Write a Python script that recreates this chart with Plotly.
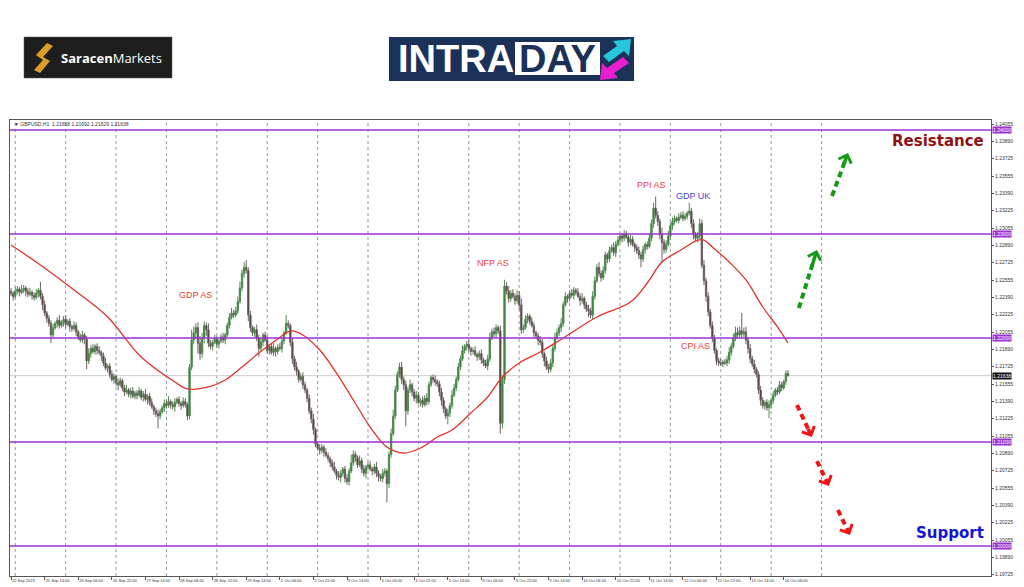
import plotly.graph_objects as go

# ---------------- data ----------------
first_open = 1.2245
close = [
    1.2243, 1.2240, 1.2245, 1.2247, 1.2244, 1.2246, 1.2248, 1.2245, 1.2242, 1.2244, 1.2241, 1.2239, 1.2243, 1.2246, 1.2240,
    1.2232, 1.2224, 1.2219, 1.2214, 1.2203,
    1.2210, 1.2214, 1.2217, 1.2212, 1.2215, 1.2218, 1.2213, 1.2216, 1.2211, 1.2209, 1.2212,
    1.2206, 1.2201, 1.2198, 1.2203, 1.2199,
    1.2178,
    1.2185, 1.2190, 1.2187, 1.2192, 1.2188, 1.2186, 1.2183,
    1.2176, 1.2171, 1.2173,
    1.2165, 1.2160, 1.2163, 1.2157, 1.2155, 1.2159,
    1.2152, 1.2148, 1.2150, 1.2146, 1.2149, 1.2144, 1.2147,
    1.2145, 1.2149, 1.2143, 1.2146, 1.2141, 1.2144,
    1.2138, 1.2134, 1.2130, 1.2127, 1.2125, 1.2129,
    1.2133, 1.2137, 1.2135, 1.2139, 1.2136, 1.2134, 1.2138, 1.2141, 1.2137, 1.2135, 1.2139, 1.2136,
    1.2125, 1.2172, 1.2198,
    1.2205, 1.2210, 1.2195, 1.2185, 1.2200, 1.2212, 1.2208, 1.2195,
    1.2192, 1.2196, 1.2199, 1.2194, 1.2197, 1.2201, 1.2198, 1.2203,
    1.2212, 1.2220, 1.2224, 1.2222, 1.2226, 1.2235, 1.2248,
    1.2262, 1.2268, 1.2265,
    1.2222, 1.2210, 1.2205, 1.2208,
    1.2200, 1.2190, 1.2196, 1.2203, 1.2198, 1.2188, 1.2192, 1.2186, 1.2190, 1.2187, 1.2191,
    1.2190, 1.2197, 1.2205, 1.2214, 1.2212, 1.2196,
    1.2180, 1.2172, 1.2168, 1.2160, 1.2163, 1.2155,
    1.2150, 1.2142, 1.2130, 1.2122, 1.2112,
    1.2098, 1.2094, 1.2092, 1.2095, 1.2090, 1.2087, 1.2084, 1.2080,
    1.2076, 1.2072, 1.2068, 1.2066, 1.2070, 1.2074, 1.2065, 1.2062,
    1.2072, 1.2080, 1.2088, 1.2085, 1.2078, 1.2082, 1.2074, 1.2070, 1.2076,
    1.2078, 1.2074, 1.2072, 1.2076, 1.2070, 1.2067, 1.2065, 1.2070, 1.2072, 1.2060,
    1.2088, 1.2108,
    1.2125, 1.2150, 1.2165, 1.2172, 1.2160, 1.2155,
    1.2130,
    1.2150, 1.2155, 1.2148, 1.2142, 1.2145, 1.2138, 1.2140, 1.2136, 1.2142, 1.2139,
    1.2155, 1.2162, 1.2160, 1.2158, 1.2156,
    1.2148, 1.2140, 1.2132, 1.2125, 1.2128,
    1.2135, 1.2145, 1.2152, 1.2160, 1.2172, 1.2180, 1.2188,
    1.2192, 1.2194, 1.2190, 1.2187, 1.2188, 1.2184, 1.2182, 1.2185, 1.2179, 1.2176, 1.2173,
    1.2180, 1.2200, 1.2206, 1.2204, 1.2210, 1.2207,
    1.2118, 1.2160, 1.2250,
    1.2245, 1.2238, 1.2243, 1.2240, 1.2236, 1.2241,
    1.2232, 1.2208,
    1.2210, 1.2218, 1.2221, 1.2216, 1.2212, 1.2205, 1.2202, 1.2198, 1.2196,
    1.2185, 1.2178, 1.2172, 1.2170, 1.2176,
    1.2190, 1.2200, 1.2205, 1.2210, 1.2214,
    1.2232, 1.2240, 1.2238, 1.2243, 1.2241, 1.2246,
    1.2244, 1.2240, 1.2236, 1.2238, 1.2232, 1.2228, 1.2226, 1.2222,
    1.2240, 1.2255, 1.2268, 1.2262, 1.2258, 1.2265,
    1.2280, 1.2276, 1.2284, 1.2287, 1.2282,
    1.2290, 1.2294, 1.2298, 1.2296, 1.2300, 1.2297, 1.2292, 1.2295, 1.2290, 1.2287, 1.2284, 1.2280, 1.2276,
    1.2285, 1.2290, 1.2288, 1.2296, 1.2310,
    1.2325, 1.2318, 1.2312,
    1.2300, 1.2292, 1.2285, 1.2290, 1.2298,
    1.2308, 1.2312, 1.2315, 1.2313, 1.2316, 1.2318, 1.2315, 1.2317, 1.2320, 1.2322,
    1.2310, 1.2300, 1.2296, 1.2298, 1.2310,
    1.2270, 1.2255, 1.2240, 1.2225, 1.2212,
    1.2200, 1.2188, 1.2178,
    1.2176, 1.2175, 1.2177, 1.2176, 1.2179,
    1.2186, 1.2192, 1.2200, 1.2205, 1.2203, 1.2207, 1.2204, 1.2206,
    1.2198, 1.2190, 1.2180, 1.2175, 1.2170, 1.2165,
    1.2150, 1.2140, 1.2135, 1.2138, 1.2133, 1.2136, 1.2140,
    1.2145, 1.2150, 1.2148, 1.2155, 1.2152, 1.2158, 1.21658, 1.21638,
]
# wick lengths beyond the body, in pips
wick_up = [
    3, 2, 4, 3, 2, 5, 3, 2, 3, 4, 2, 3, 4, 2, 8, 3, 4, 2, 3, 3,
    4, 2, 3, 5, 2, 3, 4, 2, 3, 2, 4, 3, 2, 3, 4, 2, 3, 5, 3, 4,
    2, 3, 4, 2, 3, 5, 2, 3, 4, 3, 2, 4, 3, 2, 3, 5, 2, 3, 4, 2,
    3, 4, 2, 3, 5, 2, 3, 4, 2, 3, 4, 3, 2, 4, 3, 5, 2, 3, 4, 2,
    3, 2, 4, 3, 2, 3, 10, 6, 4, 5, 7, 5, 4, 3, 6, 3, 2, 4, 3, 2,
    3, 4, 2, 3, 4, 5, 3, 4, 5, 6, 4, 5, 7, 3, 4, 2, 3, 5, 3, 4,
    2, 3, 4, 2, 3, 5, 2, 3, 4, 3, 2, 8, 3, 2, 4, 3, 5, 2, 3, 4,
    3, 2, 4, 3, 5, 2, 3, 4, 3, 2, 4, 3, 2, 3, 5, 2, 4, 3, 2, 3,
    4, 3, 8, 4, 3, 2, 5, 3, 4, 2, 3, 4, 2, 3, 5, 3, 2, 4, 3, 2,
    3, 5, 6, 4, 3, 4, 5, 3, 4, 3, 5, 2, 3, 4, 3, 2, 4, 3, 5, 3,
    2, 3, 4, 2, 3, 4, 3, 2, 4, 3, 5, 4, 3, 4, 3, 5, 2, 3, 4, 2,
    3, 4, 2, 3, 4, 2, 3, 4, 5, 3, 4, 3, 2, 5, 4, 6, 4, 5, 3, 4,
    3, 5, 4, 6, 3, 4, 3, 2, 4, 3, 2, 3, 4, 3, 2, 4, 3, 4, 3, 5,
    4, 3, 5, 3, 4, 2, 3, 4, 3, 2, 4, 3, 5, 2, 3, 4, 3, 5, 4, 3,
    5, 3, 4, 3, 2, 4, 3, 5, 3, 4, 2, 3, 4, 3, 2, 4, 3, 2, 3, 4,
    3, 4, 2, 3, 5, 4, 5, 11, 4, 3, 6, 3, 4, 5, 3, 4, 3, 2, 4, 3,
    4, 3, 2, 8, 3, 4, 2, 4, 5, 4, 5, 3, 4, 3, 4, 3, 2, 3, 4, 2,
    3, 4, 5, 3, 4, 6, 5, 4, 17, 4, 5, 3, 4, 3, 4, 2, 3, 4, 3, 2,
    3, 4, 3, 4, 2, 3, 4, 3, 2, 3, 3.4,
]
wick_dn = [
    3, 4, 2, 3, 4, 2, 3, 5, 3, 2, 4, 3, 2, 4, 3, 5, 3, 4, 3, 8,
    3, 2, 4, 3, 2, 4, 3, 2, 5, 3, 2, 4, 3, 2, 3, 5, 8, 3, 4, 2,
    3, 4, 2, 5, 3, 2, 4, 3, 2, 4, 3, 5, 2, 3, 4, 2, 3, 4, 2, 3,
    4, 2, 3, 4, 2, 5, 3, 2, 4, 3, 12, 3, 2, 4, 3, 2, 4, 3, 5, 2,
    3, 4, 2, 3, 4, 3, 3, 4, 6, 10, 6, 4, 5, 6, 4, 3, 4, 2, 3, 4,
    2, 3, 4, 2, 3, 2, 3, 2, 3, 2, 3, 4, 3, 6, 4, 3, 4, 3, 8, 3,
    4, 2, 3, 4, 2, 3, 5, 3, 2, 4, 3, 2, 3, 4, 5, 3, 4, 3, 2, 4,
    3, 4, 3, 4, 5, 3, 2, 4, 3, 4, 2, 3, 4, 3, 2, 4, 3, 5, 3, 4,
    3, 4, 2, 3, 4, 3, 2, 4, 3, 5, 3, 2, 4, 3, 4, 5, 3, 4, 3, 18,
    4, 3, 2, 3, 2, 3, 4, 5, 15, 4, 3, 4, 3, 5, 2, 4, 3, 2, 4, 3,
    2, 3, 4, 3, 4, 5, 4, 3, 8, 4, 3, 2, 3, 2, 3, 2, 3, 4, 3, 4,
    3, 2, 4, 3, 4, 3, 2, 4, 3, 2, 3, 4, 3, 10, 5, 4, 3, 4, 3, 2,
    4, 3, 5, 4, 3, 2, 4, 3, 2, 4, 3, 5, 3, 4, 5, 3, 4, 3, 4, 3,
    2, 3, 4, 3, 2, 4, 3, 2, 4, 3, 2, 5, 3, 4, 3, 6, 3, 4, 3, 2,
    3, 4, 2, 3, 4, 3, 2, 3, 4, 2, 3, 4, 3, 2, 4, 3, 2, 4, 3, 4,
    8, 3, 4, 3, 2, 3, 4, 3, 4, 5, 20, 4, 3, 2, 3, 4, 3, 2, 3, 2,
    3, 2, 3, 2, 4, 5, 3, 4, 3, 3, 4, 5, 4, 3, 4, 3, 4, 3, 2, 3,
    2, 3, 4, 3, 2, 3, 4, 3, 4, 3, 4, 5, 4, 3, 4, 3, 4, 5, 3, 4,
    3, 10, 4, 3, 2, 3, 2, 3, 2, 3, 0.9,
]
assert len(close) == len(wick_up) == len(wick_dn) == 371

# moving average (red line), read at bar positions
ma_bar = [0, 14, 30, 46, 62, 78, 84, 94, 102, 110, 118, 127, 133, 139, 147, 155, 163, 171, 179, 187,
          195, 203, 210, 219, 227, 234, 242, 252, 263, 279, 295, 303, 310, 319, 327, 330, 334, 342, 350,
          358, 365, 370]
ma_val = [1.22894, 1.22702, 1.22462, 1.22202, 1.21817, 1.21577, 1.21510, 1.21529, 1.21596, 1.21721,
          1.21856, 1.21990, 1.22067, 1.22029, 1.21885, 1.21663, 1.21404, 1.21144, 1.20952, 1.20894,
          1.20942, 1.21048, 1.21115, 1.21279, 1.21433, 1.21625, 1.21760, 1.21865, 1.22000, 1.22202,
          1.22346, 1.22529, 1.22731, 1.22846, 1.22942, 1.22942, 1.22875, 1.22731, 1.22558, 1.22298,
          1.22106, 1.21952]

tick_labels = ["22 Sep 2023", "25 Sep 14:00", "26 Sep 06:00", "26 Sep 22:00", "27 Sep 14:00",
               "28 Sep 06:00", "28 Sep 22:00", "29 Sep 14:00", "2 Oct 06:00", "2 Oct 22:00",
               "3 Oct 14:00", "4 Oct 06:00", "4 Oct 22:00", "5 Oct 14:00", "6 Oct 06:00",
               "6 Oct 22:00", "9 Oct 14:00", "10 Oct 06:00", "10 Oct 22:00", "11 Oct 14:00",
               "12 Oct 06:00", "12 Oct 22:00", "13 Oct 14:00", "16 Oct 06:00"]
bars_per_label = 16
y_ticks = [1.24055, 1.23890, 1.23725, 1.23555, 1.23390, 1.23225, 1.23055, 1.22890, 1.22725,
           1.22555, 1.22390, 1.22225, 1.22055, 1.21890, 1.21725, 1.21555, 1.21390, 1.21225,
           1.21055, 1.20890, 1.20725, 1.20555, 1.20390, 1.20225, 1.20055, 1.19890, 1.19725]
levels = [1.24, 1.23, 1.22, 1.21, 1.20]
current_price = 1.21638
header = "▼ GBPUSD,H1  1.21658 1.21692 1.21629 1.21638"

events = [("GDP AS", 88, 1.2241, "#e8413c"), ("NFP AS", 229.5, 1.2272, "#e8413c"),
          ("PPI AS", 305, 1.2347, "#e8413c"), ("GDP UK", 325, 1.23365, "#4646d2"),
          ("CPI AS", 326, 1.21923, "#e8413c")]

# projected moves (tail bar, tail price, tip bar, tip price)
arrows = [(375.2, 1.22288, 383.8, 1.22846, "#159a15"),
          (391.0, 1.23365, 398.6, 1.23779, "#159a15"),
          (374.3, 1.21356, 381.4, 1.21048, "#f01414"),
          (383.8, 1.20817, 389.5, 1.20577, "#f01414"),
          (393.8, 1.20346, 399.5, 1.20106, "#f01414")]

# ---------------- figure ----------------
W, H = 1024, 587
ML, MR, MT, MB = 10, 33, 120, 11
PW, PH = W - ML - MR, H - MT - MB


def px(x):
    return (x - ML) / PW


def py(y):
    return (H - MB - y) / PH


open_ = [first_open] + close[:-1]
high = [max(o, c) + u * 1e-4 for o, c, u in zip(open_, close, wick_up)]
low = [min(o, c) - d * 1e-4 for o, c, d in zip(open_, close, wick_dn)]
bars = list(range(len(close)))

fig = go.Figure()
fig.add_trace(go.Candlestick(
    x=bars, open=open_, high=high, low=low, close=close,
    increasing=dict(line=dict(color="#4f8a4f", width=1), fillcolor="#237f23"),
    decreasing=dict(line=dict(color="#6e6262", width=1), fillcolor="#3a2525"),
    hoverinfo="skip", showlegend=False))
fig.add_trace(go.Scatter(x=ma_bar, y=ma_val, mode="lines", line=dict(color="#e3312b", width=1.3, shape="spline"),
                         hoverinfo="skip", showlegend=False))

for (x0, y0, x1, y1, col) in arrows:
    fig.add_trace(go.Scatter(x=[x0, x0 + 0.8 * (x1 - x0)], y=[y0, y0 + 0.8 * (y1 - y0)], mode="lines",
                             line=dict(color=col, width=4, dash="6px,4px"), hoverinfo="skip", showlegend=False))
    fig.add_annotation(x=x1, y=y1, ax=x1 - 0.3 * (x1 - x0), ay=y1 - 0.3 * (y1 - y0), xref="x", yref="y",
                       axref="x", ayref="y", text="", showarrow=True, arrowhead=4, arrowsize=0.75,
                       arrowwidth=3.5, arrowcolor=col, standoff=0)

shapes = []
# day separators (dotted verticals)
for k in range(0, 17):
    shapes.append(dict(type="line", xref="x", yref="paper", x0=2 + 24 * k, x1=2 + 24 * k, y0=0, y1=1,
                       line=dict(color="#9a9a9a", width=1, dash="dot"), layer="below"))
shapes.append(dict(type="line", xref="paper", yref="y", x0=0, x1=1, y0=current_price, y1=current_price,
                   line=dict(color="#cfcfcf", width=1), layer="below"))
for lv in levels:
    shapes.append(dict(type="line", xref="paper", yref="y", x0=0, x1=1, y0=lv, y1=lv,
                       line=dict(color="#9b30d0", width=1.6)))
    fig.add_annotation(x=1, y=lv, xref="paper", yref="y", xanchor="left", yanchor="middle", xshift=1,
                       text=f"{lv:.5f}", showarrow=False, bgcolor="#9b30d0", borderpad=0,
                       font=dict(size=5, color="white", family="Liberation Sans"))
fig.add_annotation(x=1, y=current_price, xref="paper", yref="y", xanchor="left", yanchor="middle", xshift=1,
                   text=f"{current_price:.5f}", showarrow=False, bgcolor="#111111", borderpad=0,
                   font=dict(size=5, color="white", family="Liberation Sans"))

# logos
shapes.append(dict(type="rect", xref="paper", yref="paper", x0=px(24), x1=px(172), y0=py(78), y1=py(37),
                   fillcolor="#1e1e1e", line=dict(color="#555", width=0.5)))
s_icon = [(47, 43), (53, 46), (43, 57), (50, 61), (40, 73), (34, 70), (43, 60), (36, 55)]
shapes.append(dict(type="path", xref="paper", yref="paper",
                   path="M" + " L".join(f"{px(a):.5f},{py(b):.5f}" for a, b in s_icon) + " Z",
                   fillcolor="#d8a02a", line=dict(width=0)))
shapes.append(dict(type="rect", xref="paper", yref="paper", x0=px(389), x1=px(634), y0=py(81), y1=py(37),
                   fillcolor="#1c3158", line=dict(width=0)))
shapes.append(dict(type="rect", xref="paper", yref="paper", x0=px(515), x1=px(600), y0=py(75), y1=py(42),
                   fillcolor="#ffffff", line=dict(width=0)))
cyan = [(603, 56), (617, 46), (613, 41), (631, 39), (629, 56), (624, 51), (609, 62)]
mag = [(629, 63), (614, 73), (618, 78), (600, 80), (602, 63), (607, 68), (623, 57)]
for pts, col in [(cyan, "#25c6d8"), (mag, "#e91fcf")]:
    shapes.append(dict(type="path", xref="paper", yref="paper",
                       path="M" + " L".join(f"{px(a):.5f},{py(b):.5f}" for a, b in pts) + " Z",
                       fillcolor=col, line=dict(width=0)))

fig.add_annotation(x=px(59), y=py(57.5), xref="paper", yref="paper", xanchor="left", yanchor="middle",
                   text="<b>Saracen</b>Markets", showarrow=False,
                   font=dict(size=13, color="white", family="Open Sans"))
fig.add_annotation(x=px(396), y=py(59), xref="paper", yref="paper", xanchor="left", yanchor="middle",
                   text="<b>INTRA</b>", showarrow=False,
                   font=dict(size=38, color="white", family="Liberation Sans"))
fig.add_annotation(x=px(557.5), y=py(59), xref="paper", yref="paper", xanchor="center", yanchor="middle",
                   text="<b>DAY</b>", showarrow=False,
                   font=dict(size=38, color="#1c3158", family="Liberation Sans"))

for name, bx, by, col in events:
    fig.add_annotation(x=bx, y=by, xref="x", yref="y", text=name, showarrow=False,
                       font=dict(size=9, color=col, family="Liberation Sans"))

fig.add_annotation(x=464.3, y=1.23894, xref="x", yref="y", xanchor="right", yanchor="middle",
                   text="<b>Resistance</b>", showarrow=False,
                   font=dict(size=15, color="#8e1212", family="DejaVu Sans"))
fig.add_annotation(x=464.3, y=1.20125, xref="x", yref="y", xanchor="right", yanchor="middle",
                   text="<b>Support</b>", showarrow=False,
                   font=dict(size=15, color="#1515d8", family="DejaVu Sans"))
fig.add_annotation(x=px(12), y=py(123.5), xref="paper", yref="paper", xanchor="left", yanchor="middle",
                   text=header, showarrow=False, font=dict(size=5, color="#333", family="Liberation Sans"))

fig.update_layout(
    width=W, height=H, margin=dict(l=ML, r=MR, t=MT, b=MB, autoexpand=False),
    paper_bgcolor="white", plot_bgcolor="white", shapes=shapes, showlegend=False, boxgap=0.1,
    xaxis=dict(range=[-0.5, 466.7], showgrid=False, zeroline=False, rangeslider=dict(visible=False),
               tickvals=[bars_per_label * k for k in range(len(tick_labels))], ticktext=tick_labels,
               ticks="outside", ticklen=3, tickcolor="#555", tickfont=dict(size=4, color="#333", family="Liberation Sans"),
               ticklabelposition="outside right", showline=True, linecolor="#555", linewidth=1, mirror=True,
               automargin=False, fixedrange=True),
    yaxis=dict(range=[1.197115, 1.240962], side="right", showgrid=False, zeroline=False,
               tickvals=y_ticks, tickformat=".5f", ticks="outside", ticklen=2, tickcolor="#555",
               tickfont=dict(size=5, color="#333", family="Liberation Sans"), showline=True, linecolor="#555",
               linewidth=1, mirror=True, automargin=False, fixedrange=True),
)

fig.write_html("out.html", config={"displayModeBar": False}, post_script="document.body.style.margin='0';")
